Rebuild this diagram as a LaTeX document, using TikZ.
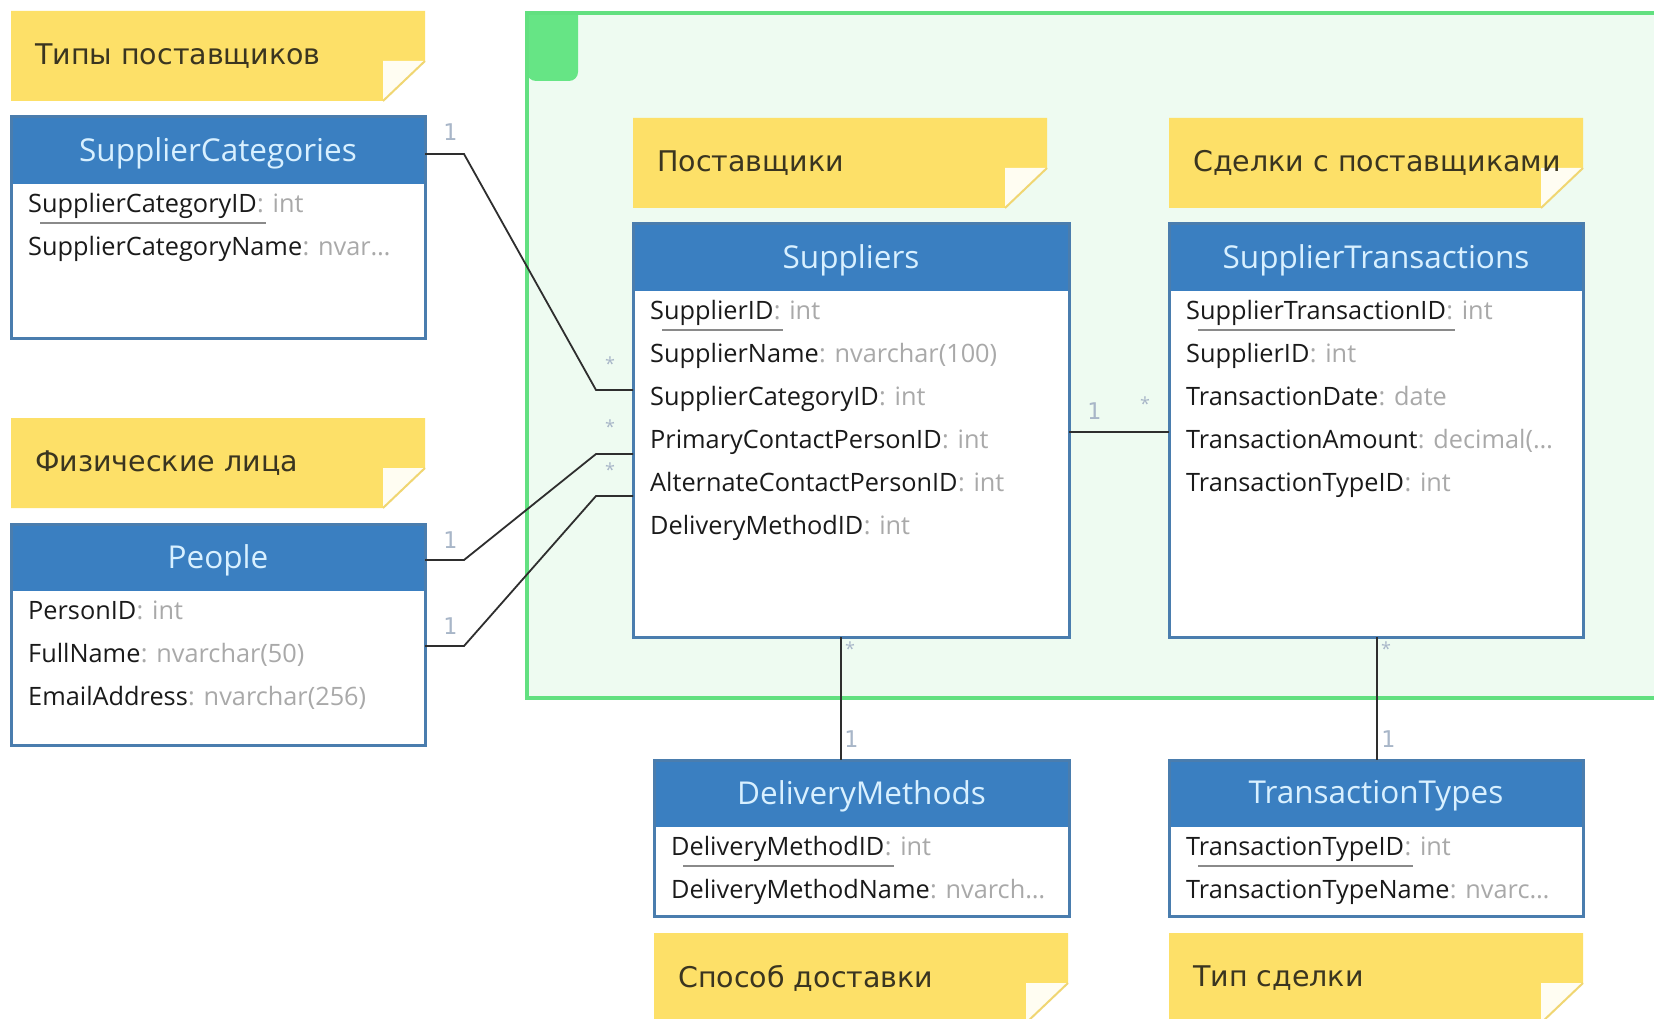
\documentclass[tikz,border=0pt]{standalone}
\usepackage{fontspec}
\setmainfont{Open Sans}
\newfontfamily\notefont{DejaVu Sans}
\newfontfamily\multfont{DejaVu Sans Mono}
\usetikzlibrary{calc}
\definecolor{hdrfill}{HTML}{3A7FC1}
\definecolor{tblborder}{HTML}{4A7DAE}
\definecolor{hdrtext}{HTML}{D8F0FF}
\definecolor{fieldname}{HTML}{1A1A1A}
\definecolor{fieldtype}{HTML}{A9A9A9}
\definecolor{ulcolor}{HTML}{8A8A8A}
\definecolor{notefill}{HTML}{FDE068}
\definecolor{notetext}{HTML}{3A3520}
\definecolor{flapfill}{HTML}{FFFDF2}
\definecolor{foldedge}{HTML}{F0D672}
\definecolor{grnborder}{HTML}{62E080}
\definecolor{grnfill}{HTML}{EEFBF1}
\definecolor{grntab}{HTML}{66E585}
\definecolor{multcolor}{HTML}{A8B6C8}
\definecolor{conncolor}{HTML}{2E2E2E}
\tikzset{
  tblbody/.style={draw=none, fill=white, inner sep=0pt, outer sep=0pt},
  tblline/.style={draw=tblborder, line width=3pt},
  hdrtxt/.style={text=hdrtext, font=\fontsize{31.5}{36}\selectfont, inner sep=0pt},
  fname/.style={text=fieldname, font=\fontsize{25.3}{30}\selectfont, inner sep=0pt, anchor=base west},
  ftype/.style={text=fieldtype, font=\fontsize{25.3}{30}\selectfont, inner sep=0pt, anchor=base west},
  pkline/.style={draw=ulcolor, line width=1.5pt},
  notetxt/.style={text=notetext, font=\notefont\fontsize{28.5}{32}\selectfont, inner sep=0pt, anchor=west},
  conn/.style={draw=conncolor, line width=1.8pt},
  multlbl/.style={text=multcolor, font=\multfont\fontsize{23}{28}\selectfont, inner sep=0pt},
  starlbl/.style={text=multcolor, font=\fontsize{18}{20}\selectfont, inner sep=0pt},
}
\newcommand\erTable[6]{%
  \node[tblbody, minimum width=#4pt, minimum height=#5pt, anchor=north west] (#1) at (#2,#3) {};
  \fill[hdrfill] (#1.north west) rectangle ([yshift=-67pt]#1.north east);
  \draw[tblline] (#1.north west) rectangle (#1.south east);
  \node[hdrtxt] (#1-title) at ([yshift=-36pt]#1.north) {#6};
}
\newcommand\erField[5]{%
  \node[fname] (#1) at (#2,#3) {#4};
  \node[ftype] (#1-t) at (#1.base east) {: #5};
}
\newcommand\erPK[1]{\draw[pkline] ([xshift=12pt,yshift=-11pt]#1.base west) -- ([xshift=9pt,yshift=-11pt]#1.base east);}
\newcommand\stickyNote[4]{%
  \fill[notefill] (#2,#3) -- ({#2+414},#3) -- ({#2+414},{#3+50}) -- ({#2+372},{#3+90}) -- (#2,{#3+90}) -- cycle;
  \fill[flapfill] ({#2+372},{#3+50}) -- ({#2+414},{#3+50}) -- ({#2+372},{#3+90}) -- cycle;
  \draw[foldedge, line width=2pt] ({#2+414},{#3+50}) -- ({#2+372},{#3+90});
  \node[notetxt] (#1) at ({#2+24},{#3+45}) {#4};
}
\begin{document}
\begin{tikzpicture}[x=1pt, y=-1pt]
\useasboundingbox (0,0) rectangle (1654,1019);
\clip (0,0) rectangle (1654,1019);
\fill[white] (0,0) rectangle (1654,1019);

% group frame
\fill[grnfill] (527,13) rectangle (1680,698);
\fill[grntab] (527,13) -- (578,13) [rounded corners=9pt] -- (578,81) -- (527,81) [sharp corners] -- cycle;
\draw[grnborder, line width=4pt] (1680,13) -- (527,13) -- (527,698) -- (1680,698);

% notes
\stickyNote{n1}{11}{11}{Типы поставщиков}
\stickyNote{n2}{633}{118}{Поставщики}
\stickyNote{n3}{1169}{118}{Сделки с поставщиками}
\stickyNote{n4}{11}{418}{Физические лица}
\stickyNote{n5}{654}{933}{Способ доставки}
\stickyNote{n6}{1169}{933}{Тип сделки}

% tables
\erTable{sc}{11}{117}{414}{221}{SupplierCategories}
\erField{sc1}{28}{212}{SupplierCategoryID}{int}
\erPK{sc1}
\erField{sc2}{28}{255}{SupplierCategoryName}{nvar…}

\erTable{ppl}{11}{524}{414}{221}{People}
\erField{p1}{28}{619}{PersonID}{int}
\erField{p2}{28}{662}{FullName}{nvarchar(50)}
\erField{p3}{28}{705}{EmailAddress}{nvarchar(256)}

\erTable{sup}{633}{224}{436}{413}{Suppliers}
\erField{s1}{650}{319}{SupplierID}{int}
\erPK{s1}
\erField{s2}{650}{362}{SupplierName}{nvarchar(100)}
\erField{s3}{650}{405}{SupplierCategoryID}{int}
\erField{s4}{650}{448}{PrimaryContactPersonID}{int}
\erField{s5}{650}{491}{AlternateContactPersonID}{int}
\erField{s6}{650}{534}{DeliveryMethodID}{int}

\erTable{tra}{1169}{224}{414}{413}{SupplierTransactions}
\erField{t1}{1186}{319}{SupplierTransactionID}{int}
\erPK{t1}
\erField{t2}{1186}{362}{SupplierID}{int}
\erField{t3}{1186}{405}{TransactionDate}{date}
\erField{t4}{1186}{448}{TransactionAmount}{decimal(…}
\erField{t5}{1186}{491}{TransactionTypeID}{int}

\erTable{dm}{654}{760}{415}{156}{DeliveryMethods}
\erField{d1}{671}{855}{DeliveryMethodID}{int}
\erPK{d1}
\erField{d2}{671}{898}{DeliveryMethodName}{nvarch…}

\erTable{tt}{1169}{760}{414}{156}{TransactionTypes}
\erField{y1}{1186}{855}{TransactionTypeID}{int}
\erPK{y1}
\erField{y2}{1186}{898}{TransactionTypeName}{nvarc…}

% connector bends
\coordinate (k1) at (596,390);
\coordinate (k2) at (596,454);
\coordinate (k3) at (596,496);
\coordinate (k4) at (1100,432);
\coordinate (k5) at (841,700);
\coordinate (k6) at (1377,700);

\draw[conn] ([yshift=-37pt]sc.north east) -- ++(39,0) -- (k1) -- (sup.west |- k1);
\draw[conn] ([yshift=-36pt]ppl.north east) -- ++(39,0) -- (k2) -- (sup.west |- k2);
\draw[conn] ([yshift=-122pt]ppl.north east) -- ++(39,0) -- (k3) -- (sup.west |- k3);
\draw[conn] (sup.east |- k4) -- (tra.west |- k4);
\draw[conn] (sup.south -| k5) -- (dm.north -| k5);
\draw[conn] (tra.south -| k6) -- (tt.north -| k6);

% multiplicities
\node[multlbl] (m1) at (450,132) {1};
\node[starlbl] (m2) at (610,364) {*};
\node[multlbl] (m3) at (450,540) {1};
\node[starlbl] (m4) at (610,427) {*};
\node[multlbl] (m5) at (450,626) {1};
\node[starlbl] (m6) at (610,470) {*};
\node[multlbl] (m7) at (1094,411) {1};
\node[starlbl] (m8) at (1145,404) {*};
\node[starlbl] (m9) at (850,649) {*};
\node[multlbl] (m10) at (851,739) {1};
\node[starlbl] (m11) at (1386,649) {*};
\node[multlbl] (m12) at (1388,739) {1};
\end{tikzpicture}
\end{document}
